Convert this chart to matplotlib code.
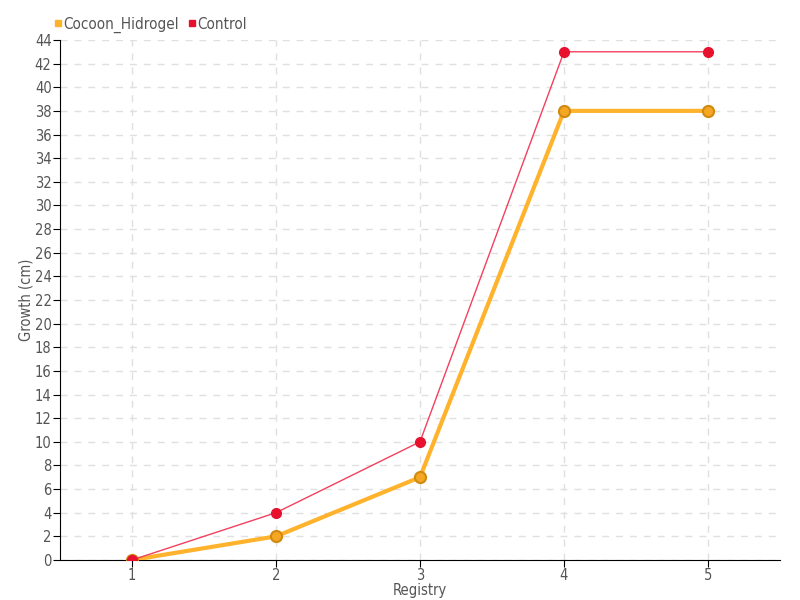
import matplotlib.pyplot as plt
from matplotlib.lines import Line2D

registry = [1, 2, 3, 4, 5]
cocoon_hidrogel = [0, 2, 7, 38, 38]
control = [0, 4, 10, 43, 43]
y_ticks = list(range(0, 45, 2))

plt.rcParams['font.family'] = ['DejaVu Sans']
plt.rcParams['font.stretch'] = 'condensed'

fig = plt.figure(figsize=(8, 6), dpi=100)
ax = fig.add_axes([0.075, 0.0667, 0.9, 0.8667])

ax.plot(registry, cocoon_hidrogel, color='#FFB22C', lw=3, marker='o', ms=8,
        mfc='#F5A623', mec='#D08A10', mew=1.5, zorder=3)
ax.plot(registry, control, color='#F2405E', lw=1, marker='o', ms=7,
        mfc='#E8112D', mec='#E8112D', zorder=4)

ax.set_xlim(0.5, 5.5)
ax.set_ylim(0, 44)
ax.set_xticks(registry)
ax.set_yticks(y_ticks)
ax.tick_params(labelsize=10.5, labelcolor='#555555', length=5,
               direction='out', pad=1)
ax.grid(True, color='#E0E0E0', ls=(0, (5, 5)), lw=1)
ax.set_axisbelow(True)
for s in ['top', 'right']:
    ax.spines[s].set_visible(False)

ax.set_xlabel('Registry', fontsize=10.5, color='#555555', labelpad=0)
ax.set_ylabel('Growth (cm)', fontsize=10.5, color='#555555', labelpad=1)

handles = [Line2D([], [], ls='none', marker='s', ms=5, color='#FFB22C'),
           Line2D([], [], ls='none', marker='s', ms=5, color='#E8112D')]
fig.legend(handles, ['Cocoon_Hidrogel', 'Control'], loc='upper left',
           bbox_to_anchor=(0.05, 0.995), ncol=2, frameon=False, fontsize=11,
           handletextpad=0.05, columnspacing=0.5, handlelength=0.6,
           labelcolor='#555555')

fig.savefig('out.png')
